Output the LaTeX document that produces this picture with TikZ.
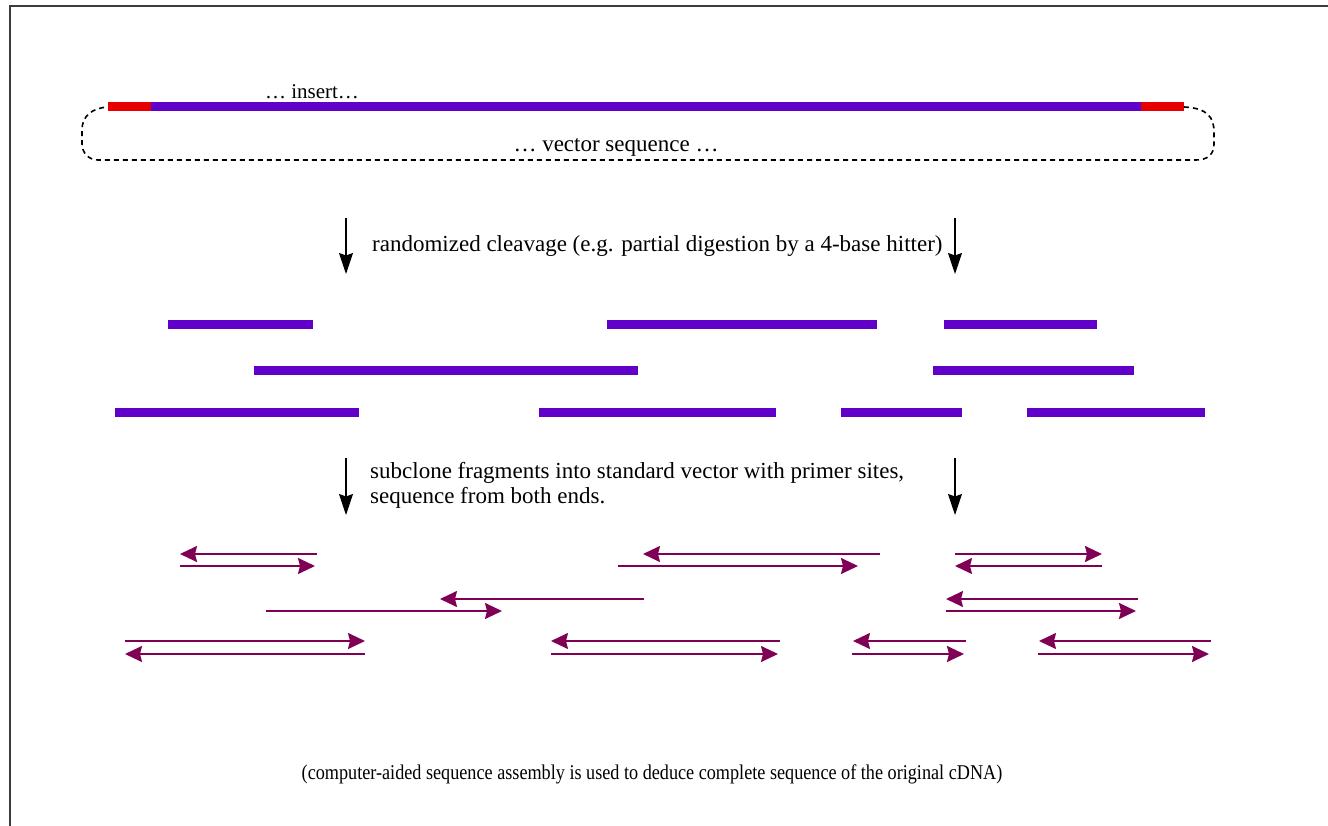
\documentclass[tikz,border=0pt]{standalone}
\usepackage{fontspec}
\setmainfont{Liberation Serif}
\usetikzlibrary{arrows.meta}

\definecolor{insertblue}{RGB}{96,0,200}
\definecolor{flankred}{RGB}{232,0,0}
\definecolor{readmaroon}{RGB}{128,0,85}
\definecolor{framegrey}{RGB}{60,60,60}

\tikzset{
  frameline/.style={draw=framegrey, line width=2pt},
  insertbar/.style={draw=insertblue, line width=9pt},
  flankbar/.style={draw=flankred, line width=9pt},
  fragbar/.style={draw=insertblue, line width=9pt},
  vectorloop/.style={draw=black, line width=1.6pt, dash pattern=on 5pt off 4pt},
  stepdown/.style={draw=black, line width=1.2pt, -{Stealth[length=21pt,width=14pt,inset=2.5pt]}},
  readline/.style={draw=readmaroon, line width=1.8pt},
  fwd/.style={readline, -{Stealth[length=17pt,width=16pt,inset=2pt]}},
  rev/.style={readline, {Stealth[length=17pt,width=16pt,inset=2pt]}-},
  lbl/.style={inner sep=0pt, font=\rmfamily\fontsize{23pt}{25pt}\selectfont},
  smalllbl/.style={inner sep=0pt, font=\rmfamily\fontsize{21pt}{24pt}\selectfont},
}

\begin{document}
\begin{tikzpicture}[x=1pt, y=-1pt]
  \useasboundingbox (0,0) rectangle (1328,826);

  % page frame (top and left edges)
  \draw[frameline] (10,826) -- (10,6) -- (1328,6);

  % cloned insert with flanking sites
  \coordinate (insL) at (108,107);
  \coordinate (insA) at (151,107);
  \coordinate (insB) at (1141,107);
  \coordinate (insR) at (1184,107);
  \draw[insertbar] (insA) -- (insB);
  \draw[flankbar] (insL) -- (insA);
  \draw[flankbar] (insB) -- (insR);
  \node[lbl, font=\rmfamily\fontsize{21pt}{25pt}\selectfont] (insertlbl) at (312,92) {\dots\ insert\dots};

  % vector backbone closing the circle
  \draw[vectorloop] (insR) .. controls (1208,108) and (1214,118) .. (1214,132)
    -- (1214,144) .. controls (1214,154) and (1208,160) .. (1196,160)
    -- (98,160) .. controls (88,160) and (82,152) .. (82,144)
    -- (82,130) .. controls (82,116) and (92,108) .. (insL);
  \node[lbl] (vectorlbl) at (616,147) {\dots\ vector sequence \dots};

  % step 1
  \coordinate (s1La) at (346,218); \coordinate (s1Lb) at (346,274);
  \coordinate (s1Ra) at (955,218); \coordinate (s1Rb) at (955,274);
  \draw[stepdown] (s1La) -- (s1Lb);
  \draw[stepdown] (s1Ra) -- (s1Rb);
  \node[lbl, anchor=west] (step1) at (372,246)
    {randomized cleavage (e.g. partial digestion by a 4-base hitter)};

  % random fragments
  \draw[fragbar] (168,325) -- (313,325);
  \draw[fragbar] (607,325) -- (877,325);
  \draw[fragbar] (944,325) -- (1097,325);
  \draw[fragbar] (254,370) -- (638,370);
  \draw[fragbar] (933,370) -- (1134,370);
  \draw[fragbar] (115,412) -- (359,412);
  \draw[fragbar] (539,412) -- (776,412);
  \draw[fragbar] (841,412) -- (962,412);
  \draw[fragbar] (1027,412) -- (1205,412);

  % step 2
  \coordinate (s2La) at (346,458); \coordinate (s2Lb) at (346,515);
  \coordinate (s2Ra) at (955,458); \coordinate (s2Rb) at (955,515);
  \draw[stepdown] (s2La) -- (s2Lb);
  \draw[stepdown] (s2Ra) -- (s2Rb);
  \node[lbl, anchor=north west, align=left] (step2) at (370,462)
    {subclone fragments into standard vector with primer sites,\\
     sequence from both ends.};

  % end reads of each subclone
  \draw[rev] (180,554) -- (317,554);  \draw[fwd] (180,566) -- (315,566);
  \draw[rev] (643,554) -- (880,554);  \draw[fwd] (618,566) -- (858,566);
  \draw[fwd] (955,554) -- (1102,554); \draw[rev] (955,566) -- (1102,566);
  \draw[rev] (440,599) -- (644,599);  \draw[fwd] (266,611) -- (502,611);
  \draw[rev] (946,599) -- (1138,599); \draw[fwd] (946,611) -- (1136,611);
  \draw[fwd] (125,641) -- (365,641);  \draw[rev] (125,654) -- (365,654);
  \draw[rev] (551,641) -- (780,641);  \draw[fwd] (551,654) -- (778,654);
  \draw[rev] (853,641) -- (966,641);  \draw[fwd] (852,654) -- (964,654);
  \draw[rev] (1039,641) -- (1211,641);\draw[fwd] (1038,654) -- (1209,654);

  \node[smalllbl] (assembly) at (652,774)
    {\scalebox{0.866}[1]{(computer-aided sequence assembly is used to deduce complete sequence of the original cDNA)}};
\end{tikzpicture}
\end{document}
